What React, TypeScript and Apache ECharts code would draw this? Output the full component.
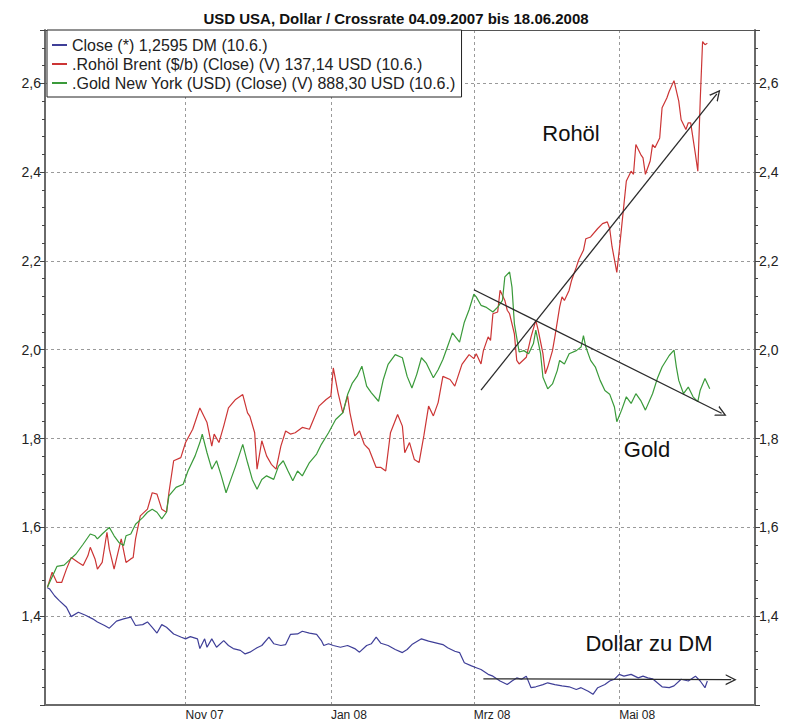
import React, { useEffect, useRef } from 'react';
import * as echarts from 'echarts';

// ---- Data ----
const seriesNames = [
  'Close (*) 1,2595 DM (10.6.)',
  '.Rohöl Brent ($/b) (Close) (V) 137,14 USD (10.6.)',
  '.Gold New York (USD) (Close) (V) 888,30 USD (10.6.)',
];

const closeDates = [
  '2007-09-04','2007-09-05','2007-09-07','2007-09-09','2007-09-12','2007-09-14','2007-09-17','2007-09-20','2007-09-23','2007-09-25','2007-09-28','2007-09-30',
  '2007-10-03','2007-10-06','2007-10-09','2007-10-11','2007-10-14','2007-10-16','2007-10-18','2007-10-20','2007-10-22','2007-10-24','2007-10-27','2007-10-30',
  '2007-11-01','2007-11-03','2007-11-06','2007-11-07','2007-11-09','2007-11-10','2007-11-12','2007-11-14','2007-11-17','2007-11-19','2007-11-21','2007-11-24','2007-11-26','2007-11-28',
  '2007-12-01','2007-12-03','2007-12-06','2007-12-08','2007-12-11','2007-12-13','2007-12-15','2007-12-18','2007-12-20','2007-12-23','2007-12-26','2007-12-28','2007-12-29','2007-12-31',
  '2008-01-02','2008-01-05','2008-01-08','2008-01-11','2008-01-13','2008-01-16','2008-01-18','2008-01-20','2008-01-22','2008-01-25','2008-01-28','2008-01-31',
  '2008-02-02','2008-02-04','2008-02-08','2008-02-11','2008-02-14','2008-02-17','2008-02-19','2008-02-22','2008-02-24','2008-02-26','2008-02-29',
  '2008-03-02','2008-03-04','2008-03-07','2008-03-09','2008-03-12','2008-03-15','2008-03-17','2008-03-19','2008-03-21','2008-03-23','2008-03-25','2008-03-27','2008-03-30',
  '2008-04-01','2008-04-04','2008-04-07','2008-04-10','2008-04-13','2008-04-15','2008-04-18','2008-04-20','2008-04-22','2008-04-25','2008-04-27','2008-04-29',
  '2008-05-01','2008-05-03','2008-05-06','2008-05-09','2008-05-11','2008-05-13','2008-05-15','2008-05-17','2008-05-19','2008-05-22','2008-05-24','2008-05-27','2008-05-30',
  '2008-06-02','2008-06-04','2008-06-06','2008-06-07',
];
const closeValues = [
  1.464,1.461,1.446,1.435,1.42,1.399,1.409,1.402,1.394,1.387,1.379,1.373,
  1.389,1.394,1.398,1.379,1.381,1.387,1.375,1.362,1.381,1.375,1.36,1.353,
  1.349,1.354,1.349,1.327,1.349,1.33,1.349,1.33,1.345,1.334,1.327,1.323,1.315,1.319,
  1.329,1.334,1.353,1.338,1.334,1.336,1.359,1.36,1.366,1.362,1.359,1.345,1.334,1.338,
  1.334,1.33,1.334,1.327,1.319,1.334,1.338,1.353,1.339,1.334,1.325,1.318,
  1.325,1.336,1.349,1.344,1.34,1.336,1.329,1.321,1.318,1.295,1.288,
  1.284,1.28,1.269,1.265,1.254,1.246,1.254,1.261,1.258,1.265,1.239,1.241,1.246,
  1.25,1.246,1.243,1.241,1.235,1.239,1.231,1.224,1.239,1.246,1.254,1.258,
  1.269,1.265,1.269,1.261,1.265,1.261,1.259,1.25,1.241,1.239,1.243,1.258,1.254,
  1.265,1.254,1.239,1.254,
];

const oilDates = [
  '2007-09-04','2007-09-06','2007-09-08','2007-09-10','2007-09-12','2007-09-14','2007-09-17','2007-09-19','2007-09-21','2007-09-22','2007-09-24','2007-09-25','2007-09-27','2007-09-29','2007-09-30',
  '2007-10-02','2007-10-03','2007-10-05','2007-10-07','2007-10-09','2007-10-10','2007-10-11','2007-10-13','2007-10-16','2007-10-18','2007-10-20','2007-10-22','2007-10-24','2007-10-25','2007-10-27','2007-10-30',
  '2007-11-01','2007-11-04','2007-11-07','2007-11-10','2007-11-12','2007-11-13','2007-11-15','2007-11-17','2007-11-19','2007-11-22','2007-11-25','2007-11-27','2007-11-28','2007-11-30',
  '2007-12-01','2007-12-03','2007-12-05','2007-12-07','2007-12-09','2007-12-11','2007-12-13','2007-12-15','2007-12-17','2007-12-20','2007-12-23','2007-12-25','2007-12-27','2007-12-30',
  '2008-01-01','2008-01-02','2008-01-04','2008-01-06','2008-01-08','2008-01-09','2008-01-11','2008-01-13','2008-01-15','2008-01-17','2008-01-20','2008-01-22','2008-01-24','2008-01-26','2008-01-29','2008-01-31',
  '2008-02-01','2008-02-03','2008-02-05','2008-02-07','2008-02-09','2008-02-11','2008-02-13','2008-02-15','2008-02-17','2008-02-20','2008-02-22','2008-02-25','2008-02-28',
  '2008-03-01','2008-03-02','2008-03-04','2008-03-05','2008-03-07','2008-03-08','2008-03-09','2008-03-11','2008-03-12','2008-03-14','2008-03-15','2008-03-16','2008-03-18','2008-03-19','2008-03-20','2008-03-23','2008-03-25','2008-03-27','2008-03-28','2008-03-30','2008-03-31',
  '2008-04-01','2008-04-03','2008-04-04','2008-04-06','2008-04-07','2008-04-08','2008-04-10','2008-04-11','2008-04-13','2008-04-14','2008-04-16','2008-04-17','2008-04-19','2008-04-22','2008-04-24','2008-04-26','2008-04-27','2008-04-28','2008-04-30',
  '2008-05-01','2008-05-03','2008-05-04','2008-05-06','2008-05-07','2008-05-08','2008-05-10','2008-05-11','2008-05-12','2008-05-14','2008-05-15','2008-05-16','2008-05-18','2008-05-19','2008-05-21','2008-05-22','2008-05-24','2008-05-26','2008-05-27','2008-05-29','2008-05-30','2008-05-31',
  '2008-06-02','2008-06-03','2008-06-04','2008-06-05','2008-06-06','2008-06-07',
];
const oilValues = [
  1.465,1.499,1.476,1.476,1.506,1.532,1.521,1.514,1.536,1.555,1.529,1.506,1.521,1.589,1.551,
  1.506,1.529,1.574,1.521,1.529,1.532,1.574,1.626,1.641,1.678,1.675,1.641,1.634,1.678,1.75,1.757,
  1.791,1.821,1.869,1.836,1.783,1.81,1.791,1.828,1.869,1.888,1.899,1.858,1.85,1.813,
  1.731,1.795,1.761,1.742,1.731,1.783,1.817,1.81,1.813,1.825,1.821,1.847,1.873,1.888,
  1.896,1.959,1.903,1.858,1.896,1.858,1.806,1.817,1.787,1.776,1.735,1.735,1.727,1.813,1.854,1.828,
  1.768,1.791,1.753,1.746,1.806,1.873,1.851,1.881,1.94,1.933,1.918,1.967,1.989,
  1.98,1.991,1.968,1.998,2.029,2.021,2.081,2.085,2.134,2.111,2.089,2.081,2.036,1.976,1.968,1.983,2.029,2.066,2.044,1.991,1.946,
  1.961,1.998,2.029,2.096,2.119,2.111,2.134,2.156,2.186,2.202,2.224,2.25,2.254,2.273,2.284,2.288,2.273,2.232,2.174,
  2.223,2.328,2.38,2.402,2.395,2.462,2.44,2.432,2.395,2.425,2.462,2.455,2.477,2.545,2.567,2.582,2.606,2.56,2.518,2.496,2.511,2.511,
  2.44,2.402,2.56,2.694,2.687,2.69,
];

const goldDates = [
  '2007-09-04','2007-09-08','2007-09-11','2007-09-13','2007-09-16','2007-09-19','2007-09-22','2007-09-24','2007-09-25','2007-09-27','2007-09-30',
  '2007-10-02','2007-10-04','2007-10-06','2007-10-07','2007-10-09','2007-10-11','2007-10-14','2007-10-16','2007-10-18','2007-10-20','2007-10-22','2007-10-24','2007-10-25','2007-10-28','2007-10-31',
  '2007-11-02','2007-11-05','2007-11-07','2007-11-08','2007-11-10','2007-11-12','2007-11-14','2007-11-16','2007-11-18','2007-11-20','2007-11-22','2007-11-25','2007-11-27','2007-11-29',
  '2007-12-01','2007-12-03','2007-12-05','2007-12-08','2007-12-10','2007-12-12','2007-12-14','2007-12-16','2007-12-18','2007-12-20','2007-12-23','2007-12-26','2007-12-28','2007-12-31',
  '2008-01-03','2008-01-06','2008-01-08','2008-01-10','2008-01-12','2008-01-14','2008-01-16','2008-01-18','2008-01-21','2008-01-23','2008-01-25','2008-01-28','2008-01-31',
  '2008-02-02','2008-02-04','2008-02-06','2008-02-08','2008-02-10','2008-02-13','2008-02-15','2008-02-17','2008-02-19','2008-02-21','2008-02-24','2008-02-26','2008-02-28',
  '2008-03-01','2008-03-02','2008-03-04','2008-03-06','2008-03-09','2008-03-11','2008-03-13','2008-03-14','2008-03-16','2008-03-17','2008-03-18','2008-03-20','2008-03-22','2008-03-24','2008-03-26','2008-03-27','2008-03-29','2008-03-30',
  '2008-04-01','2008-04-03','2008-04-05','2008-04-06','2008-04-08','2008-04-10','2008-04-13','2008-04-15','2008-04-16','2008-04-17','2008-04-19','2008-04-21','2008-04-23','2008-04-25','2008-04-27','2008-04-29','2008-04-30',
  '2008-05-02','2008-05-04','2008-05-06','2008-05-08','2008-05-10','2008-05-12','2008-05-15','2008-05-17','2008-05-19','2008-05-22','2008-05-24','2008-05-25','2008-05-26','2008-05-28','2008-05-30',
  '2008-06-01','2008-06-03','2008-06-04','2008-06-06','2008-06-08',
];
const goldValues = [
  1.465,1.512,1.515,1.525,1.54,1.562,1.585,1.581,1.574,1.585,1.6,
  1.581,1.566,1.559,1.581,1.585,1.607,1.622,1.634,1.641,1.634,1.619,1.634,1.671,1.69,1.697,
  1.727,1.761,1.791,1.81,1.768,1.731,1.75,1.716,1.678,1.708,1.738,1.787,1.746,1.708,
  1.686,1.708,1.716,1.708,1.738,1.75,1.727,1.705,1.727,1.716,1.746,1.765,1.787,1.813,
  1.843,1.858,1.899,1.925,1.94,1.963,1.918,1.903,1.884,1.933,1.967,1.989,1.982,
  1.94,1.914,1.944,1.982,1.97,1.937,1.955,1.978,2.008,2.038,2.017,2.062,2.09,
  2.125,2.119,2.1,2.096,2.085,2.096,2.111,2.164,2.175,2.141,2.059,1.995,1.998,1.991,2.014,2.044,1.991,1.938,
  1.912,1.923,1.953,1.976,1.968,1.991,1.998,2.006,2.032,2.006,1.976,1.961,1.931,1.908,1.9,1.871,1.838,
  1.864,1.894,1.879,1.901,1.886,1.864,1.901,1.935,1.961,1.987,1.999,1.961,1.931,1.901,1.916,
  1.894,1.883,1.909,1.935,1.912,
];

// trend arrows drawn on the original (start / end in data coordinates)
const oilTrend = [['2008-03-04', 1.909], ['2008-06-11', 2.576]];
const goldTrend = [['2008-03-01', 2.135], ['2008-06-13', 1.857]];
const dollarTrend = [['2008-03-05', 1.259], ['2008-06-17', 1.257]];

const annotationTexts = ['Rohöl', 'Gold', 'Dollar zu DM'];
const monthLabels = ['Jan', 'Feb', 'Mrz', 'Apr', 'Mai', 'Jun', 'Jul', 'Aug', 'Sep', 'Okt', 'Nov', 'Dez'];
const xStart = '2007-09-03';
const xEnd = '2008-06-27';

const FONT = "'Liberation Sans', Arial, Helvetica, sans-serif";
const COLORS = ['#3f3f98', '#cc3535', '#3a9a3a'];
const CHEVRON = 'path://M5,0 L10,10 L8.7,10 L5,2.6 L1.3,10 L0,10 Z';

function toTime(s: string): number {
  const [y, m, d] = s.split('-').map(Number);
  return new Date(y, m - 1, d).getTime();
}

function pairs(dates: string[], values: number[]) {
  return dates.map((d, i) => [toTime(d), values[i]]);
}

function trendLine(t: (string | number)[][]) {
  return {
    silent: true,
    symbol: ['none', CHEVRON],
    symbolSize: 11,
    label: { show: false },
    emphasis: { disabled: true },
    lineStyle: { color: '#2a2a2a', width: 1.3, type: 'solid' },
    data: [[
      { coord: [toTime(t[0][0] as string), t[0][1]] },
      { coord: [toTime(t[1][0] as string), t[1][1]] },
    ]],
  };
}

const yLabel = (v: number) => (v < 1.3 || v > 2.65 ? '' : v.toFixed(1).replace('.', ','));

export default function App() {
  const ref = useRef<HTMLDivElement>(null);

  useEffect(() => {
    if (!ref.current) return;
    const chart = echarts.init(ref.current, null, { renderer: 'svg' });
    const yMin = 1.2;
    const yMax = 2.72;
    const majorY = (pos: 'left' | 'right', grid: boolean) => ({
      type: 'value',
      position: pos,
      min: yMin,
      max: yMax,
      interval: 0.2,
      axisLine: { show: true, lineStyle: { color: '#6a6a6a', width: 2 } },
      axisTick: { show: true, length: 5, lineStyle: { color: '#444', width: 1 } },
      axisLabel: { formatter: yLabel, color: '#222', fontSize: 14, fontFamily: FONT, margin: 4 },
      splitLine: { show: grid, lineStyle: { color: '#9a9a9a', type: [3, 3], width: 1 } },
    });
    const minorY = (pos: 'left' | 'right') => ({
      type: 'value',
      position: pos,
      min: yMin,
      max: yMax,
      interval: 0.04,
      axisLine: { show: false },
      axisTick: { show: true, length: 3, lineStyle: { color: '#444', width: 1 } },
      axisLabel: { show: false },
      splitLine: { show: false },
    });

    const option: any = {
      animation: false,
      backgroundColor: '#fff',
      textStyle: { fontFamily: FONT },
      title: {
        text: 'USD USA, Dollar / Crossrate 04.09.2007 bis 18.06.2008',
        left: 'center',
        top: 6,
        textStyle: { fontSize: 15, fontWeight: 'bold', color: '#111', fontFamily: FONT },
      },
      legend: {
        data: seriesNames,
        orient: 'vertical',
        left: 47,
        top: 30,
        padding: [7, 6, 6, 5],
        itemGap: 3,
        itemWidth: 15,
        itemHeight: 2,
        itemTextGap: 6,
        icon: 'rect',
        selectedMode: false,
        backgroundColor: '#fff',
        borderColor: '#222',
        borderWidth: 1,
        textStyle: { fontSize: 16, lineHeight: 16, color: '#222', fontFamily: FONT },
      },
      grid: { left: 45, right: 37, top: 30, bottom: 19, containLabel: false, outerBoundsMode: 'none' },
      xAxis: [
        {
          type: 'time',
          min: toTime(xStart),
          max: toTime(xEnd),
          splitNumber: 4,
          minInterval: 55 * 24 * 3600 * 1000,
          axisLine: { show: true, lineStyle: { color: '#6a6a6a', width: 2 } },
          axisTick: { show: false },
          axisLabel: {
            formatter: (value: number) => {
              const d = new Date(value);
              if (d.getDate() !== 1) return '';
              return monthLabels[d.getMonth()] + ' ' + String(d.getFullYear()).slice(2);
            },
            align: 'left',
            color: '#222',
            fontSize: 12,
            fontFamily: FONT,
            margin: 4,
            showMinLabel: false,
            showMaxLabel: false,
            hideOverlap: false,
          },
          splitLine: { show: true, lineStyle: { color: '#9a9a9a', type: [3, 3], width: 1 } },
        },
        {
          type: 'time',
          position: 'top',
          min: toTime(xStart),
          max: toTime(xEnd),
          axisLine: { show: true, lineStyle: { color: '#555', width: 1 } },
          axisTick: { show: false },
          axisLabel: { show: false },
          splitLine: { show: false },
        },
      ],
      yAxis: [majorY('left', true), majorY('right', false), minorY('left'), minorY('right')],
      series: [
        {
          name: seriesNames[0],
          type: 'line',
          data: pairs(closeDates, closeValues),
          showSymbol: false,
          color: COLORS[0],
          lineStyle: { width: 1.2, color: COLORS[0] },
          markLine: trendLine(dollarTrend),
          z: 3,
        },
        {
          name: seriesNames[1],
          type: 'line',
          data: pairs(oilDates, oilValues),
          showSymbol: false,
          color: COLORS[1],
          lineStyle: { width: 1.2, color: COLORS[1] },
          markLine: trendLine(oilTrend),
          z: 3,
        },
        {
          name: seriesNames[2],
          type: 'line',
          data: pairs(goldDates, goldValues),
          showSymbol: false,
          color: COLORS[2],
          lineStyle: { width: 1.2, color: COLORS[2] },
          markLine: trendLine(goldTrend),
          z: 3,
        },
      ],
      graphic: [
        { type: 'text', x: 571, y: 133, style: { text: annotationTexts[0], fill: '#111', font: `22px ${FONT}`, align: 'center', verticalAlign: 'middle' } },
        { type: 'text', x: 647, y: 449, style: { text: annotationTexts[1], fill: '#111', font: `22px ${FONT}`, align: 'center', verticalAlign: 'middle' } },
        { type: 'text', x: 649, y: 643, style: { text: annotationTexts[2], fill: '#111', font: `22px ${FONT}`, align: 'center', verticalAlign: 'middle' } },
      ],
    };

    chart.setOption(option);
    return () => chart.dispose();
  }, []);

  return (
    <div
      ref={ref}
      style={{ position: 'fixed', left: 0, top: 0, width: 792, height: 724, background: '#fff' }}
    />
  );
}
